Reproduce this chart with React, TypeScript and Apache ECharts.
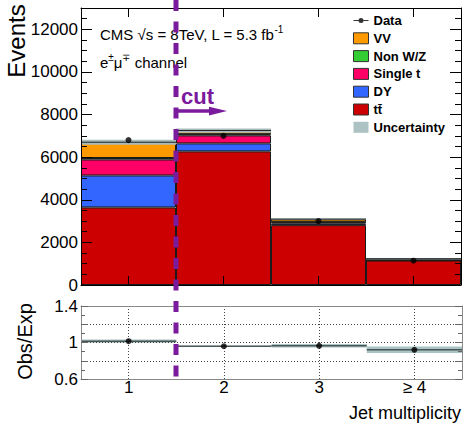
import React, { useEffect, useRef } from 'react';
import * as echarts from 'echarts';

const categories = ['1', '2', '3', '≥ 4'];
const ttbar = [3640, 6270, 2810, 1150];
const dy = [1500, 375, 80, 15];
const singleTop = [750, 375, 60, 35];
const nonWZ = [70, 60, 20, 10];
const vv = [740, 170, 120, 20];
const dataEvents = [6800, 7000, 3000, 1140];
const mcUncertainty = [115, 100, 40, 30];
const ratio = [1.014, 0.959, 0.964, 0.92];
const ratioUncertainty = [0.018, 0.006, 0.02, 0.035];
const ratioTickLabels = ['0.6', '1', '1.4'];

const FONT = '"Liberation Sans", Arial, Helvetica, sans-serif';
const PURPLE = '#7a1a9c';

export default function App() {
  const ref = useRef<HTMLDivElement>(null);
  useEffect(() => {
    const chart = echarts.init(ref.current!, null, { renderer: 'svg' });
    const totals = categories.map((_, i) => ttbar[i] + dy[i] + singleTop[i] + nonWZ[i] + vv[i]);
    const stackDefs = [
      { name: 'tt\u0304', values: ttbar, color: '#cc0000' },
      { name: 'DY', values: dy, color: '#3366ff' },
      { name: 'Single t', values: singleTop, color: '#ff0066' },
      { name: 'Non W/Z', values: nonWZ, color: '#33cc33' },
      { name: 'VV', values: vv, color: '#ff9900' },
    ];
    const stackSeries = stackDefs.map((d) => ({
      type: 'bar',
      name: d.name,
      stack: 'mc',
      data: d.values,
      xAxisIndex: 0,
      yAxisIndex: 0,
      barWidth: '100%',
      barCategoryGap: '0%',
      itemStyle: { color: d.color, borderColor: '#1a1a1a', borderWidth: 1 },
      emphasis: { disabled: true },
    }));

    const bandRender = (fill: string, lineColor: string, lineWidth: number) => (params: any, api: any) => {
      const idx = api.value(0);
      const c = api.value(1);
      const u = api.value(2);
      const top = api.coord([idx, c + u]);
      const bot = api.coord([idx, c - u]);
      const mid = api.coord([idx, c]);
      const w = api.size([1, 0])[0];
      const x0 = mid[0] - w / 2;
      return {
        type: 'group',
        children: [
          { type: 'rect', shape: { x: x0, y: top[1], width: w, height: bot[1] - top[1] }, style: { fill } },
          { type: 'line', shape: { x1: x0, y1: mid[1], x2: x0 + w, y2: mid[1] }, style: { stroke: lineColor, lineWidth } },
        ],
      };
    };

    const tickStyle = { color: '#000', width: 1 };
    const labelStyle = { fontFamily: FONT, fontSize: 17, color: '#000' };

    const option: any = {
      animation: false,
      backgroundColor: '#fff',
      grid: [
        { left: 81, top: 8, width: 380, height: 277 },
        { left: 81, top: 306, width: 381, height: 73 },
      ],
      legend: {
        left: 353,
        top: 14,
        orient: 'vertical',
        itemWidth: 15,
        itemHeight: 11,
        itemGap: 4.8,
        padding: 0,
        selectedMode: false,
        textStyle: { fontFamily: FONT, fontSize: 13, fontWeight: 'bold', color: '#000' },
        data: [
          { name: 'Data', icon: 'path://M0,0M15,11M0,5h5v1h-5z M10,5h5v1h-5z M5,5.5a2.5,2.5 0 1,0 5,0a2.5,2.5 0 1,0 -5,0z', itemStyle: { color: '#000', borderWidth: 0 } },
          { name: 'VV', icon: 'rect', itemStyle: { color: '#ff9900', borderColor: '#333', borderWidth: 1 } },
          { name: 'Non W/Z', icon: 'rect', itemStyle: { color: '#33cc33', borderColor: '#333', borderWidth: 1 } },
          { name: 'Single t', icon: 'rect', itemStyle: { color: '#ff0066', borderColor: '#333', borderWidth: 1 } },
          { name: 'DY', icon: 'rect', itemStyle: { color: '#3366ff', borderColor: '#333', borderWidth: 1 } },
          { name: 'tt\u0304', icon: 'rect', itemStyle: { color: '#cc0000', borderColor: '#333', borderWidth: 1 } },
          { name: 'Uncertainty', icon: 'rect', itemStyle: { color: '#adc2c2', borderWidth: 0 } },
        ],
      },
      xAxis: [
        {
          gridIndex: 0, type: 'category', data: categories, position: 'bottom', z: 10,
          axisLine: { show: true, onZero: false, lineStyle: { color: '#000', width: 1 } },
          axisTick: { show: true, inside: true, length: 9, alignWithLabel: true, lineStyle: tickStyle },
          axisLabel: { show: false }, splitLine: { show: false },
        },
        {
          gridIndex: 0, type: 'category', data: categories, position: 'top', z: 10,
          axisLine: { show: true, onZero: false, lineStyle: { color: '#000', width: 1 } },
          axisTick: { show: true, inside: true, length: 9, alignWithLabel: true, lineStyle: tickStyle },
          axisLabel: { show: false }, splitLine: { show: false },
        },
        {
          gridIndex: 1, type: 'category', data: categories, position: 'bottom', z: 10,
          axisLine: { show: true, onZero: false, lineStyle: { color: '#888', width: 1 } },
          axisTick: { show: false },
          axisLabel: { show: true, margin: 0, ...labelStyle }, splitLine: { show: false },
        },
        {
          gridIndex: 1, type: 'category', data: categories, position: 'top', z: 10,
          axisLine: { show: true, onZero: false, lineStyle: { color: '#888', width: 1 } },
          axisTick: { show: false }, axisLabel: { show: false }, splitLine: { show: false },
        },
      ],
      yAxis: [
        {
          gridIndex: 0, type: 'value', min: 0, max: 13000, interval: 2000, z: 10,
          axisLine: { show: true, lineStyle: { color: '#000', width: 1 } },
          axisTick: { show: true, inside: true, length: 11, lineStyle: tickStyle },
          minorTick: { show: true, splitNumber: 4, length: 6, lineStyle: tickStyle },
          axisLabel: { show: true, margin: 3, showMaxLabel: false, formatter: (v: number) => String(v), ...labelStyle },
          splitLine: { show: false },
        },
        {
          gridIndex: 0, type: 'value', position: 'right', min: 0, max: 13000, interval: 2000, z: 10,
          axisLine: { show: true, lineStyle: { color: '#000', width: 1 } },
          axisTick: { show: true, inside: true, length: 11, lineStyle: tickStyle },
          minorTick: { show: true, splitNumber: 4, length: 6, lineStyle: tickStyle },
          axisLabel: { show: false }, splitLine: { show: false },
        },
        {
          gridIndex: 1, type: 'value', min: 0.6, max: 1.4, interval: 0.2, z: 10,
          axisLine: { show: true, lineStyle: { color: '#888', width: 1 } },
          axisTick: { show: true, inside: true, length: 7, lineStyle: { color: '#666', width: 1 } },
          minorTick: { show: true, splitNumber: 2, length: 4, lineStyle: { color: '#666', width: 1 } },
          axisLabel: {
            show: true, margin: 3, ...labelStyle,
            formatter: (v: number) => {
              const s = String(Math.round(v * 10) / 10);
              return ratioTickLabels.indexOf(s) >= 0 ? s : '';
            },
          },
          splitLine: { show: true, lineStyle: { type: [1, 2], color: '#444', width: 1 } },
        },
        {
          gridIndex: 1, type: 'value', position: 'right', min: 0.6, max: 1.4, interval: 0.2, z: 10,
          axisLine: { show: true, lineStyle: { color: '#888', width: 1 } },
          axisTick: { show: true, inside: true, length: 7, lineStyle: { color: '#666', width: 1 } },
          minorTick: { show: true, splitNumber: 2, length: 4, lineStyle: { color: '#666', width: 1 } },
          axisLabel: { show: false }, splitLine: { show: false },
        },
      ],
      series: [
        ...stackSeries,
        {
          type: 'custom',
          name: 'Uncertainty',
          xAxisIndex: 0,
          yAxisIndex: 0,
          renderItem: bandRender('#a9bcbc', '#222', 1),
          encode: { x: 0, y: 1 },
          data: categories.map((_, i) => [i, totals[i], mcUncertainty[i]]),
          z: 3,
        },
        {
          type: 'scatter',
          name: 'Data',
          xAxisIndex: 0,
          yAxisIndex: 0,
          data: dataEvents,
          symbol: 'circle',
          symbolSize: 6,
          itemStyle: { color: '#000' },
          z: 5,
        },
        {
          type: 'custom',
          name: 'RatioBand',
          xAxisIndex: 2,
          yAxisIndex: 2,
          renderItem: bandRender('#a9c4c4', '#4a5656', 1.5),
          encode: { x: 0, y: 1 },
          data: categories.map((_, i) => [i, ratio[i], ratioUncertainty[i]]),
          z: 3,
        },
        {
          type: 'scatter',
          name: 'Ratio',
          xAxisIndex: 2,
          yAxisIndex: 2,
          data: ratio,
          symbol: 'circle',
          symbolSize: 6,
          itemStyle: { color: '#000' },
          z: 5,
          markLine: {
            silent: true,
            symbol: 'none',
            label: { show: false },
            lineStyle: { type: [1, 2], color: '#444', width: 1 },
            data: categories.map((c) => ({ xAxis: c })),
          },
        },
      ],
    };
    chart.setOption(option);

    const p0 = chart.convertToPixel({ xAxisIndex: 0 } as any, categories[0]) as unknown as number;
    const p1 = chart.convertToPixel({ xAxisIndex: 0 } as any, categories[1]) as unknown as number;
    const cutX = (p0 + p1) / 2;
    const ratioBottom = chart.convertToPixel({ yAxisIndex: 2 } as any, 0.6) as unknown as number;

    chart.setOption({
      graphic: [
        {
          type: 'text', x: 100, y: 34, z: 50,
          style: {
            text: '{m|CMS √s = 8TeV, L = 5.3 fb}{s|-1}',
            verticalAlign: 'middle',
            rich: {
              m: { fontFamily: FONT, fontSize: 15, lineHeight: 20, fill: '#000' },
              s: { fontFamily: FONT, fontSize: 10, lineHeight: 10, verticalAlign: 'top', fill: '#000' },
            },
          },
        },
        {
          type: 'text', x: 100, y: 62, z: 50,
          style: {
            text: '{m|e}{s|±}{m|μ}{s|∓}{m| channel}',
            verticalAlign: 'middle',
            rich: {
              m: { fontFamily: FONT, fontSize: 15, lineHeight: 20, fill: '#000' },
              s: { fontFamily: FONT, fontSize: 10, lineHeight: 10, verticalAlign: 'top', fill: '#000' },
            },
          },
        },
        {
          type: 'text', x: 16.6, y: 41, rotation: Math.PI / 2, z: 50,
          style: { text: 'Events', fontFamily: FONT, fontSize: 24, fill: '#000', align: 'center', verticalAlign: 'middle' },
        },
        {
          type: 'text', x: 25.4, y: 341.5, rotation: Math.PI / 2, z: 50,
          style: { text: 'Obs/Exp', fontFamily: FONT, fontSize: 20, fill: '#000', align: 'center', verticalAlign: 'middle' },
        },
        {
          type: 'text', x: 461, y: 413, z: 50,
          style: { text: 'Jet multiplicity', fontFamily: FONT, fontSize: 18, fill: '#000', align: 'right', verticalAlign: 'middle' },
        },
        {
          type: 'line', z: 100,
          shape: { x1: cutX, y1: 0, x2: cutX, y2: ratioBottom + 2 },
          style: { stroke: PURPLE, lineWidth: 5, lineDash: [11, 10.5] },
        },
        {
          type: 'text', x: cutX + 5, y: 107, z: 100,
          style: { text: 'cut', fontFamily: FONT, fontSize: 22, fontWeight: 'bold', fill: PURPLE, align: 'left', verticalAlign: 'bottom' },
        },
        {
          type: 'line', z: 100,
          shape: { x1: cutX, y1: 111, x2: cutX + 36, y2: 111 },
          style: { stroke: PURPLE, lineWidth: 3.4 },
        },
        {
          type: 'polygon', z: 100,
          shape: { points: [[cutX + 33, 106.8], [cutX + 51, 111], [cutX + 33, 115.4]] },
          style: { fill: PURPLE },
        },
      ],
    });

    return () => chart.dispose();
  }, []);
  return <div ref={ref} style={{ position: 'fixed', left: 0, top: 0, width: 463, height: 425 }} />;
}
